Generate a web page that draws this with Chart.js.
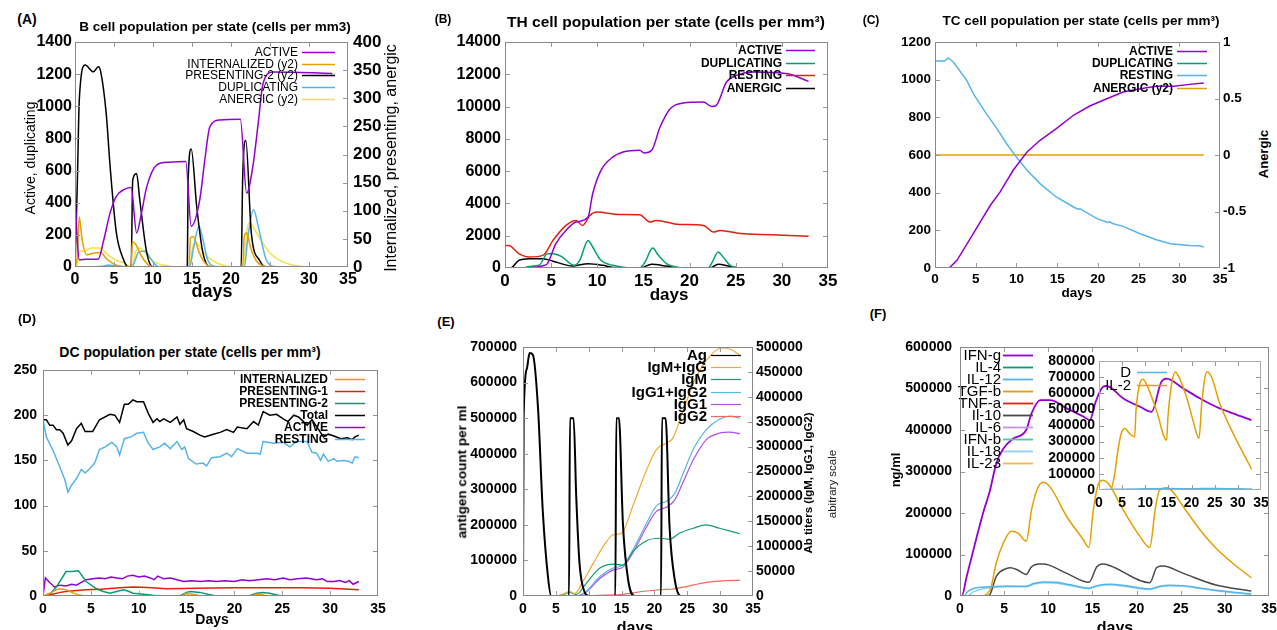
<!DOCTYPE html>
<html lang="en">
<head>
<meta charset="UTF-8">
<title>Immune simulation panels</title>
<script src="https://cdn.jsdelivr.net/npm/chart.js"></script>
<style>
  body { margin: 0; background: #fff; width: 1277px; height: 630px; overflow: hidden; position: relative;
         font-family: "Liberation Sans", Arial, sans-serif; }
  canvas { position: absolute; }
  .t { position: absolute; white-space: nowrap; line-height: 1; color: #000; transform: translate(-50%, -50%); z-index: 2; }
  .b { font-weight: bold; }
  .rot { transform: translate(-50%, -50%) rotate(-90deg); }
  .box { position: absolute; box-sizing: border-box; border: 1px solid #888; z-index: 3; pointer-events: none; }
</style>
</head>
<body>

<!-- panel text -->
<div class="t b" style="left:27px;top:19px;font-size:14px">(A)</div>
<div class="t b" style="left:215px;top:27px;font-size:13.5px">B cell population per state (cells per mm3)</div>
<div class="t rot" style="left:30px;top:158px;font-size:14px">Active, duplicating</div>
<div class="t rot" style="left:391px;top:158px;font-size:16px">Internalized, presenting, anergic</div>
<div class="t b" style="left:212px;top:291px;font-size:18px">days</div>

<div class="t b" style="left:443px;top:19px;font-size:12px">(B)</div>
<div class="t b" style="left:666px;top:22px;font-size:15.5px">TH cell population per state (cells per mm³)</div>
<div class="t b" style="left:669px;top:294px;font-size:17px">days</div>

<div class="t b" style="left:871px;top:20px;font-size:12px">(C)</div>
<div class="t b" style="left:1081px;top:21px;font-size:13.5px">TC cell population per state (cells per mm³)</div>
<div class="t b" style="left:1077px;top:293px;font-size:13.5px">days</div>
<div class="t b rot" style="left:1263px;top:154px;font-size:13px">Anergic</div>

<div class="t b" style="left:27px;top:318px;font-size:13px">(D)</div>
<div class="t b" style="left:190px;top:352px;font-size:14px">DC population per state (cells per mm³)</div>
<div class="t b" style="left:212px;top:619px;font-size:14px">Days</div>

<div class="t b" style="left:446px;top:321px;font-size:13px">(E)</div>
<div class="t b rot" style="left:462px;top:472px;font-size:13.5px">antigen count per ml</div>
<div class="t b rot" style="left:809px;top:483px;font-size:11.5px">Ab titers (IgM, IgG1, IgG2)</div>
<div class="t rot" style="left:833px;top:484px;font-size:11.5px;color:#222">abitrary scale</div>
<div class="t b" style="left:635px;top:628px;font-size:16px">days</div>

<div class="t b" style="left:878px;top:313px;font-size:13px">(F)</div>
<div class="t b rot" style="left:895px;top:470px;font-size:13px">ng/ml</div>
<div class="t b" style="left:1115px;top:628px;font-size:16px">days</div>

<script>
// ---- data: [day, value] pairs ----
// (A) B cells
const A_ACTIVE = [[0,450],[0.25,200],[0.55,45],[1.5,48],[3,50],[3.6,150],[4.5,337],[5.3,440],[6.2,480],[7.2,495],[7.9,212],[8.5,330],[9.2,500],[10.5,636],[12,652],[14.2,656],[14.9,254],[16,420],[16.6,650],[17.3,873],[18.6,915],[21.2,920],[22,460],[22.8,625],[23.5,900],[24.1,1140],[25.4,1214],[33,1204]];
const A_INTERNALIZED = [[0,0],[0.3,20],[0.55,89],[0.9,50],[1.5,22],[2.5,25],[3.3,26],[4,15],[5,5],[6,1],[7.2,0],[7.35,45],[7.8,40],[8.5,20],[9.5,3],[10.5,0],[14.6,0],[14.8,52],[15.2,54],[15.8,30],[16.5,10],[17.5,1],[21.5,0],[21.7,55],[22,61],[22.5,35],[23.2,12],[24.5,1],[33,0]];
const A_PRESENTING2 = [[0,0],[0.3,150],[0.55,297],[1.3,359],[2.35,347],[3,356],[3.3,347],[4,273],[4.5,179],[5.3,61],[6.2,14],[6.8,0],[7.2,0],[7.4,155],[7.9,166],[8.3,120],[9.2,25],[10,0],[14.4,0],[14.5,150],[14.9,210],[15.6,108],[16.4,25],[17.5,0],[21.3,0],[21.5,160],[21.9,225],[22.6,61],[23.7,11],[24.5,0],[33,0]];
const A_DUPLICATING = [[0,0],[3.5,5],[4.3,12],[5,8],[6,3],[7.3,0],[7.7,40],[8.1,89],[9,99],[9.6,60],[10.5,5],[11,0],[14.7,0],[15.2,120],[15.9,254],[16.4,170],[17,47],[18,3],[21.7,0],[22.2,200],[22.9,357],[23.5,250],[24.5,47],[25.5,3],[26,0],[33,0]];
const A_ANERGIC = [[0,0],[0.3,5],[0.6,28],[1.2,28],[2.1,34],[3.2,34],[4,25],[4.5,19],[5.3,12],[6.2,8],[7,2],[7.4,5],[7.8,28],[8.3,34],[9,25],[10,10],[10.9,5],[12,2],[13,0],[14.7,0],[15,30],[15.4,43],[16,36],[17,18],[18.1,8],[20,0],[21.6,0],[22,60],[22.3,78],[22.6,76],[23.5,55],[25,25],[26.5,10],[27.5,5],[30,0],[33,0]];

// (B) TH cells
const B_ACTIVE = [[0,0],[2.5,0],[3.3,50],[4.2,150],[4.6,270],[5.5,1500],[6.6,2330],[7.7,2850],[9,3160],[9.5,4600],[10.4,6050],[11.7,6880],[12.8,7190],[14.6,7290],[15.1,7120],[15.9,7290],[16.8,8730],[17.9,9870],[19.3,10220],[21.5,10280],[22.4,10010],[22.9,10080],[24,11520],[25.1,11930],[26.9,12140],[30.6,12040],[32.9,11560]];
const B_DUPLICATING = [[0,0],[2,0],[2.6,100],[3.7,170],[4.6,890],[5.2,890],[6.1,720],[7.5,165],[8.1,475],[9,1710],[9.5,1300],[10.4,475],[11.7,165],[13,30],[14.6,0],[15.2,400],[16,1240],[16.6,800],[17.5,270],[18.5,60],[19.7,0],[22,0],[22.4,300],[23.1,990],[23.6,700],[24.4,165],[25.5,0],[33,0]];
const B_RESTING = [[0,1400],[0.4,1400],[1.5,890],[2.6,680],[4.1,780],[5.2,1710],[6.6,2640],[7.7,2950],[8.4,2640],[9.2,3260],[9.9,3470],[12.4,3320],[14.6,3300],[15.7,2850],[16.4,2950],[18.9,2700],[21.5,2640],[22.6,2230],[23.3,2330],[25.5,2130],[28.8,2060],[32.9,1960]];
const B_ANERGIC = [[0,0],[0.6,0],[1.5,475],[2.6,580],[4.1,580],[5.5,370],[7.3,120],[9,270],[10.6,165],[11.7,30],[14.6,0],[15.9,230],[17.5,120],[19,0],[22.2,0],[23.1,230],[24.4,100],[25.5,0],[33,0]];

// (C) TC cells
const C_ACTIVE = [[0,0],[1.4,0],[1.8,2],[2.7,41],[4.7,182],[6.8,333],[8,404],[9.6,519],[11.3,616],[12.9,678],[14.9,740],[17,811],[19,860],[21.1,899],[23.1,934],[25.2,952],[27.2,965],[29.3,965],[31.3,975],[33,982]];
const C_DUPLICATING = [[0,0],[33,0]];
const C_RESTING = [[0,1099],[1.2,1099],[1.6,1115],[2.25,1094],[3.9,996],[4.7,926],[6.3,820],[7.6,740],[8.8,660],[10,589],[11.3,519],[12.9,448],[14.9,377],[17,324],[17.5,312],[17.8,315],[19.9,262],[21.2,242],[21.5,245],[21.8,236],[23.1,221],[25.2,182],[27.2,150],[28.9,129],[31.3,120],[32.5,118],[33,112]];
const C_ANERGIC = [[0,0],[33,0]];

// (D) DC
const D_INTERNALIZED = [[0,0],[0.7,3],[1.4,7],[1.75,8],[2.4,7],[3,4],[3.8,1],[4.5,0],[14.5,0],[15,3],[15.6,2],[16.5,0],[21.8,0],[22.3,2],[23,1],[23.5,0],[33,0]];
const D_PRESENTING1 = [[0,0],[1,2],[1.8,4],[2.4,5],[3.5,6],[4.5,7],[6,7.5],[8,9],[9.4,10],[11,9.5],[12.9,8],[16,8.5],[19.9,9],[23,9],[26.9,9],[30,8.5],[32,7.5],[33,7]];
const D_PRESENTING2 = [[0,0],[0.3,0],[0.8,3],[1.4,10],[2,20],[2.4,27],[3,27],[3.7,28],[4.5,16],[5.6,8],[6.3,5],[7,3],[7.7,5],[8.4,7],[9,5],[9.4,3],[10.5,2],[11.2,1],[12,0],[14.3,0],[15,4],[15.4,5],[16.4,4],[17.2,2],[18.1,0],[21.5,0],[22.3,3],[23,4],[23.7,3],[24.4,1],[25,0],[33,0]];
const D_TOTAL = [[0,195],[0.35,195],[0.7,189],[1.05,189],[1.4,184],[1.75,184],[2.1,180],[2.6,167],[3,172],[3.5,185],[4,191],[4.4,182],[5.2,182],[5.9,195],[7,201],[7.5,200],[8,192],[8.5,212],[8.9,212],[9.4,217],[9.8,215],[10.5,215],[11,202],[11.5,192],[11.9,196],[12.2,193],[12.6,196],[13.3,192],[14,198],[14.3,190],[14.7,195],[15,185],[15.7,182],[16.4,178],[16.9,176],[17.8,179],[18.5,181],[19.2,184],[19.9,181],[20.3,187],[21.3,185],[22,193],[22.5,189],[23,204],[23.7,200],[24.4,201],[25.1,196],[25.6,193],[26.2,200],[26.7,198],[27.6,189],[28.1,195],[28.8,184],[29.3,176],[29.8,179],[30.4,177],[31.1,174],[31.8,175],[32.3,173],[32.6,176],[33,178]];
const D_ACTIVE = [[0,0],[0.25,20],[0.7,15],[1.2,10],[1.8,12],[2.4,11],[3,13],[3.5,12],[4,15],[4.5,18],[5.2,19],[5.9,20],[6.5,19],[7.1,21],[7.7,20],[8.3,19],[8.8,22],[9.4,23],[10,21],[10.6,22],[11.2,20],[11.6,18],[12,22],[12.6,19],[13.3,20],[14,18],[14.7,16],[15.5,17],[16.5,16],[17.3,17],[18.1,16],[19,17],[20,16],[20.8,18],[21.6,17],[22.5,18],[23.4,19],[24.2,18],[25.1,20],[25.8,18],[26.6,19],[27.5,20],[28.6,18],[29.2,19],[29.7,16],[30.4,16],[31,17],[31.6,15],[32,17],[32.4,13],[33,16]];
const D_RESTING = [[0,195],[0.35,176],[1.05,161],[1.75,143],[2.3,128],[2.6,115],[3,123],[3.5,130],[4,140],[4.4,136],[4.9,141],[5.4,147],[5.9,162],[6.5,165],[7.2,170],[7.7,165],[8,156],[8.5,174],[9.2,176],[9.8,180],[10.5,181],[11,169],[11.5,162],[12.2,165],[12.7,169],[13.3,163],[14,171],[14.5,162],[14.8,165],[15.2,152],[16,146],[16.7,147],[17.1,144],[17.6,153],[18.5,154],[19.2,158],[19.7,154],[20.3,163],[21.3,158],[22.3,158],[22.7,157],[23,171],[24.1,169],[25.1,170],[25.8,165],[26.5,171],[27.6,171],[28.1,159],[28.6,158],[29,150],[29.3,157],[29.8,149],[30.4,152],[30.7,149],[31.4,150],[31.9,149],[32.3,147],[32.6,154],[33,153]];

// (E) antigen and antibodies
const E_AG = [[0,0],[0.1,505000],[0.6,640000],[1,683000],[1.5,678000],[2.3,524000],[3,242000],[3.8,54000],[4.3,0],[7,0],[7.15,500000],[7.7,500000],[8.1,280000],[8.6,92000],[9.4,10000],[10,0],[14.05,0],[14.2,500000],[14.6,500000],[15.2,205000],[16,45000],[17,0],[21,0],[21.15,500000],[21.7,500000],[22.3,195000],[23.1,45000],[24,0],[33,0]];
const E_IGMIGG = [[0,0],[5,0],[6.1,4000],[7.1,9000],[7.9,5000],[9.1,29000],[10.7,66000],[12.7,109000],[13.7,123000],[15,126000],[16.7,180000],[18.8,253000],[20.3,294000],[21.8,307000],[22.8,317000],[24.4,374000],[26.4,441000],[28.4,481000],[30.2,498000],[31.7,495000],[33,483000]];
const E_IGM = [[0,0],[5,0],[6.1,3000],[7.1,7000],[8.1,3000],[9.6,25000],[11.7,56000],[13.7,64000],[15.2,62000],[16.7,89000],[18.8,111000],[20.8,116000],[22.3,114000],[23.8,126000],[25.9,136000],[27.9,143000],[29.9,136000],[33,125000]];
const E_IGG1IGG2 = [[0,0],[8.1,0],[9.6,9000],[11.7,39000],[13.7,56000],[15.2,62000],[16.7,92000],[18.8,146000],[20.3,181000],[21.8,190000],[23.1,206000],[24.4,247000],[25.9,294000],[27.9,334000],[29.9,355000],[31.5,361000],[33,357000]];
const E_IGG1 = [[0,0],[8.1,0],[9.6,8000],[11.7,35000],[13.7,52000],[15.2,58000],[16.7,86000],[18.8,139000],[20.3,170000],[21.8,178000],[23.1,193000],[24.4,230000],[25.9,273000],[27.9,314000],[29.9,327000],[31.5,329000],[33,326000]];
const E_IGG2 = [[0,0],[10,0],[10.7,1000],[14.7,3000],[18.8,10000],[21.3,13000],[22.8,14000],[24.9,19000],[26.9,25000],[28.9,29000],[30.9,31000],[33,31500]];

// (F) cytokines
const F_IFNG = [[0,0],[0.2,0],[0.75,46500],[1.9,143000],[2.6,199000],[3.4,255000],[4.1,319000],[4.9,355000],[6,379000],[7.5,400000],[8.1,440000],[9.1,472000],[10.2,472000],[12.1,452000],[14,432000],[14.7,424000],[15.4,470000],[16.2,504000],[16.6,506000],[18.5,476000],[20.4,456000],[21.7,444000],[22.8,516000],[23.4,524000],[25.3,500000],[27.2,476000],[29,456000],[30.9,440000],[33,424000]];
const F_IL4 = [[0,0],[33,0]];
const F_IL12 = [[0,0],[0.5,0],[0.75,8000],[1.2,15000],[1.9,20000],[3.4,22000],[5.3,24000],[7.5,23500],[8.3,30000],[9.4,34000],[10.9,33000],[12.5,27000],[14.6,19000],[15.5,25000],[17,28500],[19,24000],[21.5,17000],[22.5,23000],[23.8,26000],[25.3,25000],[27,20000],[29,14000],[31,9000],[33,5000]];
const F_TGFB = [[0,0],[2.3,0],[3.4,14000],[4.1,79000],[4.9,127000],[5.8,156000],[6.6,151000],[7.5,132000],[8.1,207000],[8.7,255000],[9.4,274000],[10.2,263000],[12.1,191000],[14,135000],[14.6,117000],[15.1,207000],[15.7,271000],[16.2,279000],[16.8,271000],[18.5,207000],[20.4,143000],[21.5,117000],[22.1,207000],[22.6,255000],[23.4,261000],[24.1,251000],[25.3,215000],[27.2,159000],[29,115000],[30.9,79000],[33,44000]];
const F_TNFA = [[0,0],[33,0]];
const F_IL10 = [[0,0],[3,0],[3.4,4000],[4.1,46500],[5.3,66500],[5.7,68000],[6.4,64000],[7.5,52000],[8.1,70500],[8.9,77000],[9.4,77000],[12.1,54500],[14.6,33000],[15.5,70500],[16.2,77000],[17,73000],[21.5,32000],[22.3,69000],[23,72000],[25.3,54500],[29,26500],[33,12000]];
const F_IL6 = [[0,0],[33,0]];
const F_IFNB = [[0,0],[33,0]];
const F_IL18 = [[0,0],[0.8,0],[1.5,10000],[2.5,17000],[3.4,20000],[5.3,22500],[7.5,22000],[8.3,28000],[9.4,32000],[10.9,31000],[12.5,25000],[14.6,17500],[15.5,23500],[17,27000],[19,22500],[21.5,15500],[22.5,21500],[23.8,24500],[25.3,23500],[27,18500],[29,12500],[31,8000],[33,4000]];
const F_IL23 = [[0,0],[33,0]];
// (F) inset
const IN_D = [[0,0],[1,3000],[5,5000],[10,7000],[15,9000],[20,8000],[25,10000],[30,8000],[33,6000]];
const IN_IL2 = [[0,0],[2.5,0],[3.4,103000],[4.1,247000],[4.8,350000],[5.6,381000],[6.6,350000],[7.7,330000],[8,495000],[8.8,660000],[9.5,687000],[10.2,660000],[12.4,495000],[14.6,309000],[14.9,454000],[15.7,660000],[16.5,732000],[17.1,711000],[18.9,577000],[20.3,433000],[21.6,320000],[22.2,536000],[22.9,701000],[23.4,732000],[24.3,701000],[26.1,536000],[29,350000],[33,128000]];

const PURPLE = '#9400d3', GREEN = '#009e73', LBLUE = '#56b4e9', ORANGE = '#e69f00',
      YELLOW = '#f0e442', RED = '#e51e10', BLACK = '#000000';

Chart.defaults.font.family = '"Liberation Sans", Arial, sans-serif';
Chart.defaults.color = '#000';
Chart.defaults.animation = false;

const xy = a => a.map(p => ({ x: p[0], y: p[1] }));
function line(label, data, color, axis, width, smooth) {
  return { label, data: xy(data), borderColor: color, backgroundColor: color, borderWidth: width || 1.5,
           yAxisID: axis || 'y', pointRadius: 0, fill: false,
           cubicInterpolationMode: smooth === false ? 'default' : 'monotone', tension: 0 };
}

// inward tick marks, then the key (text right-aligned, sample line to its right)
const decoPlugin = {
  id: 'gDeco',
  afterDraw(chart, args, o) {
    const { ctx, scales } = chart;
    const [l0, t0, r0, b0] = o.area;
    const L = 5;
    ctx.save();
    ctx.lineWidth = 1;
    ctx.strokeStyle = '#999';
    ctx.beginPath();
    scales.x.ticks.forEach(t => {
      const px = Math.round(scales.x.getPixelForValue(t.value)) + 0.5;
      if (px < l0 + 2 || px > r0 - 2) return;
      ctx.moveTo(px, b0); ctx.lineTo(px, b0 - L);
      ctx.moveTo(px, t0); ctx.lineTo(px, t0 + L);
    });
    scales.y.ticks.forEach(t => {
      const py = Math.round(scales.y.getPixelForValue(t.value)) + 0.5;
      if (py < t0 + 2 || py > b0 - 2) return;
      ctx.moveTo(l0, py); ctx.lineTo(l0 + L, py);
      if (!scales.y2) { ctx.moveTo(r0, py); ctx.lineTo(r0 - L, py); }
    });
    if (scales.y2) scales.y2.ticks.forEach(t => {
      const py = Math.round(scales.y2.getPixelForValue(t.value)) + 0.5;
      if (py < t0 + 2 || py > b0 - 2) return;
      ctx.moveTo(r0, py); ctx.lineTo(r0 - L, py);
    });
    ctx.stroke();

    ctx.font = o.font;
    ctx.textAlign = 'right';
    ctx.textBaseline = 'middle';
    chart.data.datasets.forEach((d, i) => {
      const y = Math.round(o.y + i * o.dy) + 0.5;
      ctx.fillStyle = '#000';
      ctx.fillText(d.label, o.x, y);
      ctx.strokeStyle = d.borderColor;
      ctx.lineWidth = o.lw;
      ctx.beginPath(); ctx.moveTo(o.x1, y); ctx.lineTo(o.x2, y); ctx.stroke();
    });
    ctx.restore();
  }
};
Chart.register(decoPlugin);

function makeChart(c) {
  const [bl, bt, br, bb] = c.box, [pl, pt, pr, pb] = c.plot;
  const cv = document.createElement('canvas');
  cv.width = br - bl; cv.height = bb - bt;
  cv.style.left = bl + 'px'; cv.style.top = bt + 'px';
  document.body.appendChild(cv);
  // plot frame
  const fr = document.createElement('div');
  fr.className = 'box';
  fr.style.left = pl + 'px';
  fr.style.top = pt + 'px';
  fr.style.width = (pr - pl) + 'px';
  fr.style.height = (pb - pt) + 'px';
  fr.style.borderColor = c.frame || '#888';
  document.body.appendChild(fr);

  const num = v => String(v);
  const scales = {
    x: { type: 'linear', min: 0, max: 35,
         ticks: { stepSize: 5, font: { size: c.xFont, weight: 'bold' }, padding: c.xPad, color: '#000', maxRotation: 0, autoSkip: false, callback: num },
         grid: { display: false, drawTicks: false }, border: { display: false },
         afterFit: s => { s.height = bb - pb; s.paddingLeft = 0; s.paddingRight = 0; } },
    y: { type: 'linear', position: 'left', min: c.y[0], max: c.y[1],
         ticks: { stepSize: c.y[2], font: { size: c.yFont, weight: 'bold' }, padding: c.yPad, color: '#000', autoSkip: false, callback: num },
         grid: { display: false, drawTicks: false }, border: { display: false },
         afterFit: s => { s.width = pl - bl; s.paddingTop = 0; s.paddingBottom = 0; } }
  };
  if (c.y2) scales.y2 = { type: 'linear', position: 'right', min: c.y2[0], max: c.y2[1],
         ticks: { stepSize: c.y2[2], font: { size: c.y2Font, weight: 'bold' }, padding: c.y2Pad, color: '#000', autoSkip: false, callback: num },
         grid: { display: false, drawTicks: false }, border: { display: false },
         afterFit: s => { s.width = br - pr; s.paddingTop = 0; s.paddingBottom = 0; } };
  const k = c.key;
  return new Chart(cv, {
    type: 'line',
    data: { datasets: c.datasets },
    options: {
      responsive: false, animation: false, parsing: false,
      layout: { padding: { top: pt - bt, left: 0, bottom: 0, right: c.y2 ? 0 : br - pr } },
      scales,
      plugins: {
        legend: { display: false }, tooltip: { enabled: false },
        gDeco: { area: [pl - bl, pt - bt, pr - bl, pb - bt],
                 x: k.x - bl, y: k.y - bt, dy: k.dy, x1: k.x1 - bl, x2: k.x2 - bl,
                 font: k.font, lw: k.lw || 1.5 }
      }
    }
  });
}

// (A)
makeChart({
  box: [0, 30, 388, 290], plot: [75, 42, 348, 267],
  y: [0, 1400, 200], yFont: 16, yPad: 3,
  y2: [0, 400, 50], y2Font: 17, y2Pad: 5,
  xFont: 16, xPad: 3,
  key: { x: 298, y: 52, dy: 11.7, x1: 302, x2: 335, font: '12px "Liberation Sans", Arial' },
  datasets: [
    line('ACTIVE', A_ACTIVE, PURPLE),
    line('INTERNALIZED (y2)', A_INTERNALIZED, ORANGE, 'y2'),
    line('PRESENTING-2 (y2)', A_PRESENTING2, BLACK, 'y2'),
    line('DUPLICATING', A_DUPLICATING, LBLUE),
    line('ANERGIC (y2)', A_ANERGIC, YELLOW, 'y2')
  ]
});

// (B)
makeChart({
  box: [420, 30, 842, 290], plot: [505, 42, 828, 268],
  y: [0, 14000, 2000], yFont: 16, yPad: 4,
  xFont: 17, xPad: 3,
  key: { x: 782, y: 50, dy: 12.6, x1: 786, x2: 815, font: 'bold 12px "Liberation Sans", Arial' },
  datasets: [
    line('ACTIVE', B_ACTIVE, PURPLE),
    line('DUPLICATING', B_DUPLICATING, GREEN),
    line('RESTING', B_RESTING, RED),
    line('ANERGIC', B_ANERGIC, BLACK)
  ]
});

// (C)
makeChart({
  box: [842, 30, 1255, 290], plot: [935, 42, 1220, 268],
  y: [0, 1200, 200], yFont: 13.5, yPad: 4,
  y2: [-1, 1, 0.5], y2Font: 13.5, y2Pad: 3,
  xFont: 13.5, xPad: 3,
  key: { x: 1173, y: 51, dy: 12.2, x1: 1177, x2: 1207, font: 'bold 12px "Liberation Sans", Arial' },
  datasets: [
    line('ACTIVE', C_ACTIVE, PURPLE, 'y', 1.5, false),
    line('DUPLICATING', C_DUPLICATING, GREEN),
    line('RESTING', C_RESTING, LBLUE, 'y', 1.5, false),
    line('ANERGIC (y2)', C_ANERGIC, ORANGE, 'y2')
  ]
});

// (D)
makeChart({
  box: [0, 360, 400, 620], plot: [43, 370, 378, 596],
  y: [0, 250, 50], yFont: 14, yPad: 6,
  xFont: 14, xPad: 5,
  key: { x: 328, y: 379, dy: 12, x1: 335, x2: 365, font: 'bold 12px "Liberation Sans", Arial' },
  datasets: [
    line('INTERNALIZED', D_INTERNALIZED, ORANGE, 'y', 1.5, false),
    line('PRESENTING-1', D_PRESENTING1, RED, 'y', 1.5, false),
    line('PRESENTING-2', D_PRESENTING2, GREEN, 'y', 1.5, false),
    line('Total', D_TOTAL, BLACK, 'y', 1.5, false),
    line('ACTIVE', D_ACTIVE, PURPLE, 'y', 1.5, false),
    line('RESTING', D_RESTING, LBLUE, 'y', 1.5, false)
  ]
});

// (E)
makeChart({
  box: [465, 335, 805, 625], plot: [523, 347, 753, 596],
  y: [0, 700000, 100000], yFont: 14, yPad: 6,
  y2: [0, 500000, 50000], y2Font: 14, y2Pad: 3,
  xFont: 14, xPad: 5,
  key: { x: 707, y: 355, dy: 12.2, x1: 711, x2: 741, font: 'bold 15px "Liberation Sans", Arial', lw: 1.2 },
  datasets: [
    line('Ag', E_AG, BLACK, 'y', 2),
    line('IgM+IgG', E_IGMIGG, '#f0a830', 'y2', 1.2),
    line('IgM', E_IGM, '#109e70', 'y2', 1.2),
    line('IgG1+IgG2', E_IGG1IGG2, LBLUE, 'y2', 1.2),
    line('IgG1', E_IGG1, '#b050e8', 'y2', 1.2),
    line('IgG2', E_IGG2, '#f06a5a', 'y2', 1.2)
  ]
});

// (F)
makeChart({
  box: [900, 335, 1277, 625], plot: [960, 347, 1269, 596],
  y: [0, 600000, 100000], yFont: 14, yPad: 8,
  xFont: 14, xPad: 5,
  key: { x: 1001, y: 355, dy: 12, x1: 1003, x2: 1033, font: '15px "Liberation Sans", Arial', lw: 1.8 },
  datasets: [
    line('IFN-g', F_IFNG, PURPLE, 'y', 1.8),
    line('IL-4', F_IL4, GREEN),
    line('IL-12', F_IL12, LBLUE),
    line('TGF-b', F_TGFB, ORANGE),
    line('TNF-a', F_TNFA, RED, 'y', 2),
    line('Il-10', F_IL10, '#4a4a4a'),
    line('IL-6', F_IL6, '#c890f0'),
    line('IFN-b', F_IFNB, '#50c8a0'),
    line('IL-18', F_IL18, '#8fd0f5'),
    line('IL-23', F_IL23, '#f2b84b')
  ]
});

// (F) inset
makeChart({
  box: [1040, 350, 1277, 515], plot: [1099, 361, 1261, 490],
  y: [0, 800000, 100000], yFont: 14, yPad: 4,
  xFont: 14, xPad: 5,
  frame: '#aaa',
  key: { x: 1131, y: 372, dy: 13, x1: 1137, x2: 1167, font: '15px "Liberation Sans", Arial' },
  datasets: [
    line('D', IN_D, LBLUE),
    line('IL-2', IN_IL2, ORANGE)
  ]
});
</script>
</body>
</html>
